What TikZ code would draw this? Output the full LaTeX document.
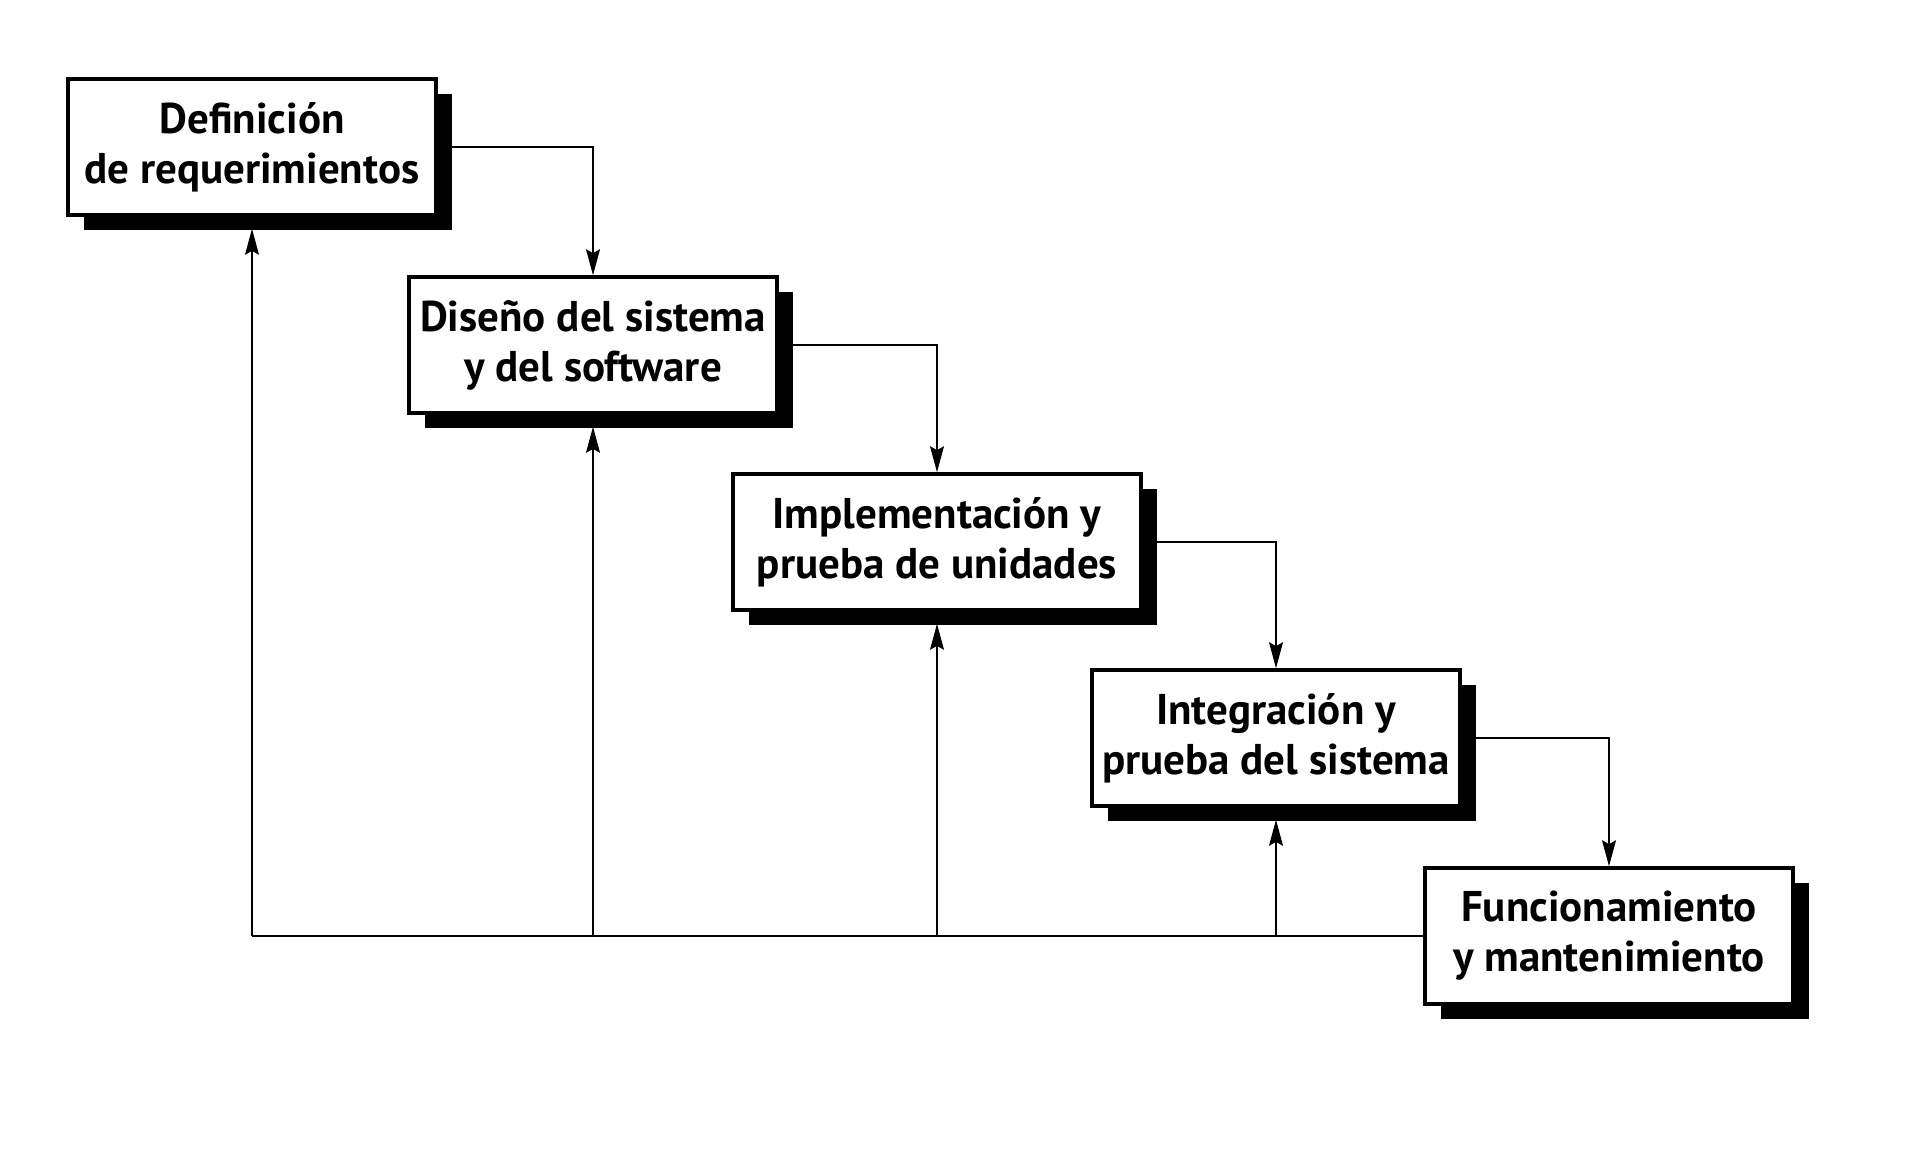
\documentclass[tikz,border=0pt]{standalone}
\usepackage{fontspec}
\setmainfont{PT Sans}
\usetikzlibrary{shadows,arrows.meta}

\tikzset{
  fase/.style={shape=rectangle,draw=black,fill=white,line width=1.8pt,
    minimum width=184pt,minimum height=68pt,align=center,
    font=\bfseries\fontsize{21.5}{25}\selectfont,
    drop shadow={shadow xshift=8pt,shadow yshift=-7.5pt,fill=black,opacity=1}},
  flecha/.style={line width=0.6pt,-{Stealth[length=13pt,width=7pt,inset=2pt]}}
}

\begin{document}
\begin{tikzpicture}[x=0.5pt,y=-0.5pt]
            \useasboundingbox (0,0) rectangle (1910,1152);
            \node[fase] (req) at (252,147) {Definición\\de requerimientos};
            \node[fase] (dis) at (593,345) {Diseño del sistema\\y del software};
            \node[fase,minimum width=204pt] (imp) at (937,542) {Implementación y\\prueba de unidades};
            \node[fase] (int) at (1276,738) {Integración y\\prueba del sistema};
            \node[fase] (fun) at (1609,936) {Funcionamiento\\y mantenimiento};

            \draw[flecha] (req.east) -| (dis.north);
            \draw[flecha] (dis.east) -| (imp.north);
            \draw[flecha] (imp.east) -| (int.north);
            \draw[flecha] (int.east) -| (fun.north);

            % retorno
            \draw[line width=0.6pt] (fun.west) -- (req.south |- fun.west);
            \foreach \f in {req,dis,imp,int}
                \draw[flecha,shorten >=6pt] (\f.south |- fun.west) -- (\f.south);
        \end{tikzpicture}
\end{document}
